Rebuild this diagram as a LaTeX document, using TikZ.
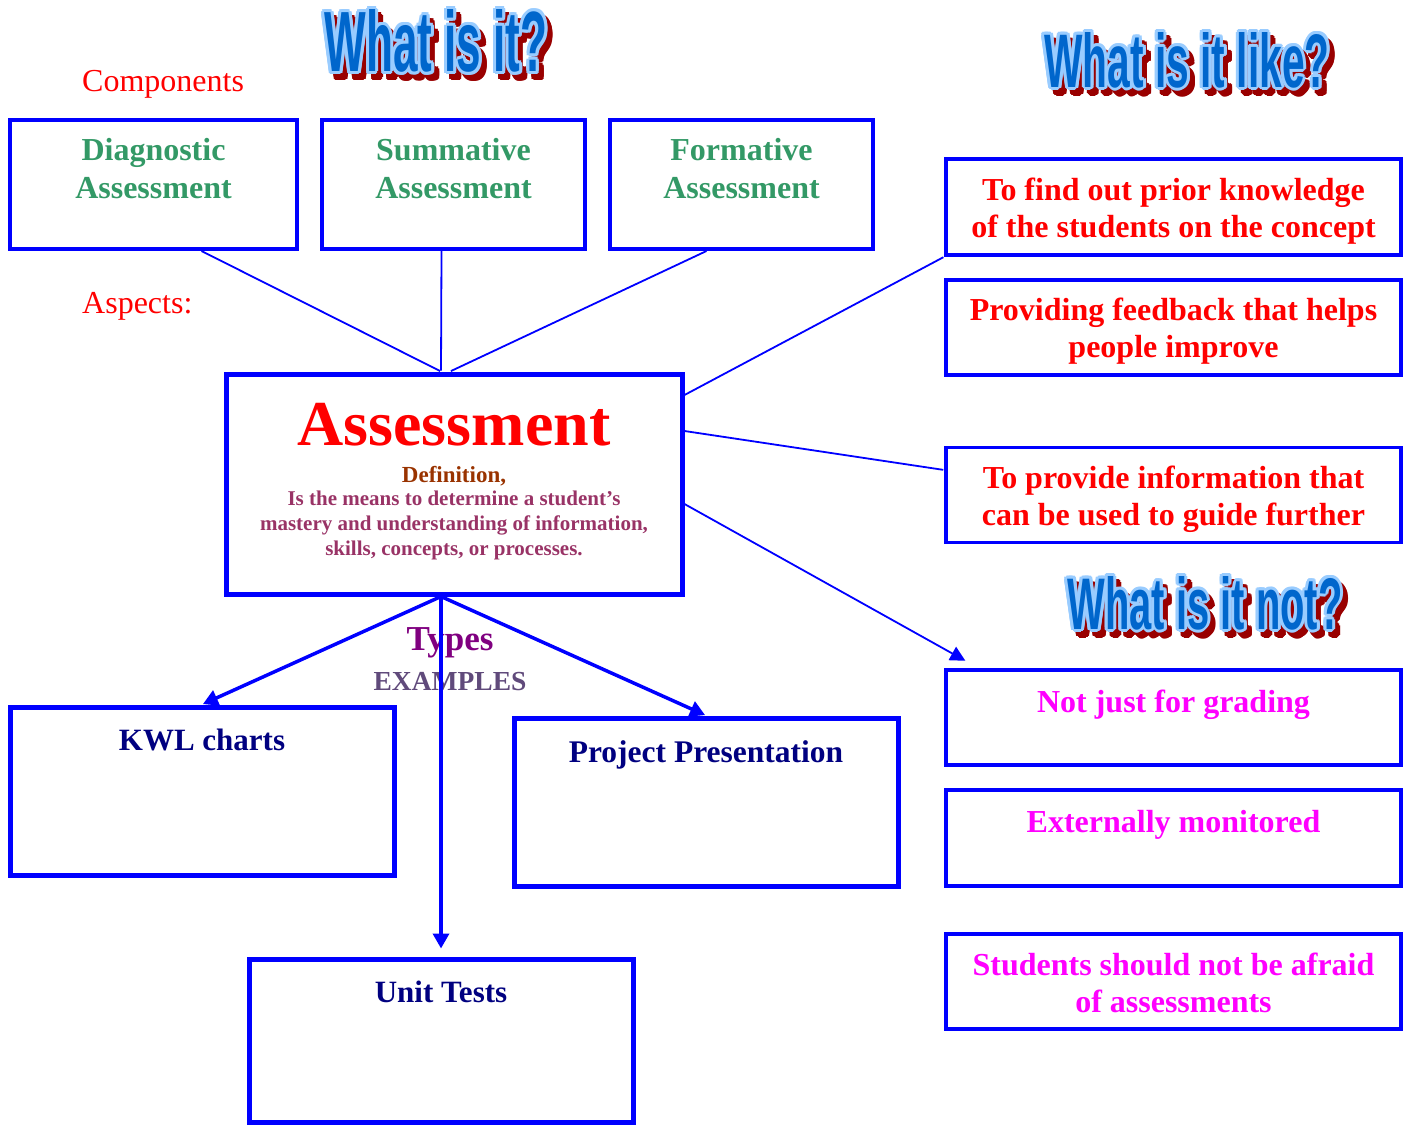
\documentclass[tikz,border=0pt]{standalone}
\usepackage{fontspec}
\setmainfont{Liberation Serif}
\newfontfamily\wafont{Liberation Sans}
\usetikzlibrary{arrows.meta,positioning}

\definecolor{waBlue}{HTML}{0066CC}
\definecolor{waHalo}{HTML}{99CCFF}
\definecolor{waRed}{HTML}{990000}
\definecolor{compGreen}{HTML}{339966}
\definecolor{defBrown}{HTML}{993300}
\definecolor{defPlum}{HTML}{993366}
\definecolor{typePurple}{HTML}{800080}
\definecolor{exGrey}{HTML}{604A7B}
\definecolor{exNavy}{HTML}{000080}
\definecolor{notPink}{HTML}{FF00FF}

% word art title: name, centre, width, height, text
\newcommand{\wordart}[5]{%
  \foreach \a in {0,30,...,330}{
    \node[wa, text=waRed, xshift=5pt, yshift=-6pt, shift={(\a:3pt)}] (#1s\a) at (#2) {\resizebox{#3}{#4}{#5}};
  }
  \foreach \a in {0,30,...,330}{
    \node[wa, text=waHalo, shift={(\a:3pt)}] (#1h\a) at (#2) {\resizebox{#3}{#4}{#5}};
  }
  \node[wa, text=waBlue] (#1) at (#2) {\resizebox{#3}{#4}{#5}};
}

\begin{document}
\begin{tikzpicture}[x=1pt,y=-1pt,shorten >=1pt]
    \tikzstyle{wa}=[inner sep=0pt, font=\wafont\bfseries]
    \tikzstyle{box}=[draw=blue, line width=4pt, inner sep=0pt]
    \tikzstyle{rbox}=[box, line width=3.5pt, minimum width=455pt, minimum height=95pt]
    \tikzstyle{exbox}=[box, line width=5pt, minimum width=384pt, minimum height=168pt]
    \tikzstyle{txt}=[inner sep=0pt, anchor=base, align=center, font=\bfseries\fontsize{32}{37}\selectfont]
    \tikzstyle{link}=[blue, line width=1.8pt]
    \tikzstyle{arr}=[blue, line width=3.5pt, -{Triangle[length=15pt,width=16pt]}]
    \useasboundingbox (0,0) rectangle (1404,1126);

    \wordart{q1}{436,41}{223pt}{62pt}{What is it?}
    \wordart{q2}{1187,60}{285pt}{55pt}{What is it like?}
    \wordart{q3}{1205,603}{275pt}{53pt}{What is it not?}

    \node[txt, anchor=base west, text=red, font=\fontsize{32}{38}\selectfont] (comp) at (82,92) {Components};
    \node[txt, anchor=base west, text=red, font=\fontsize{32}{38}\selectfont] (asp) at (82,313) {Aspects:};

    % components (base = last line)
    \node[box, minimum width=287pt, minimum height=129pt] (diag) at (153.5,184.5) {};
    \node[box, minimum width=263pt, minimum height=129pt] (summ) at (453.5,184.5) {};
    \node[box, minimum width=263pt, minimum height=129pt] (form) at (741.5,184.5) {};
    \node[txt, text=compGreen, font=\bfseries\fontsize{32}{38}\selectfont] (diagt) at (153.5,198) {Diagnostic\\Assessment};
    \node[txt, text=compGreen, font=\bfseries\fontsize{32}{38}\selectfont] (summt) at (453.5,198) {Summative\\Assessment};
    \node[txt, text=compGreen, font=\bfseries\fontsize{32}{38}\selectfont] (formt) at (741.5,198) {Formative\\Assessment};

    % centre
    \node[box, line width=5pt, minimum width=456pt, minimum height=220pt] (assess) at (454,484) {};
    \node[txt, text=red, font=\bfseries\fontsize{64}{70}\selectfont] (title) at (454,445) {Assessment};
    \node[txt, text=defBrown, font=\bfseries\fontsize{23}{25}\selectfont] (defn) at (454,482) {Definition,};
    \node[txt, text=defPlum, font=\bfseries\fontsize{21}{25}\selectfont] (defbody) at (454,555) {Is the means to determine a student’s\\mastery and understanding of information,\\skills, concepts, or processes.};

    % what is it like
    \node[rbox, minimum height=96pt] (find) at (1173.5,207) {};
    \node[rbox] (feedback) at (1173.5,327.5) {};
    \node[rbox] (info) at (1173.5,495) {};
    \node[txt, text=red] (findt) at (1173.5,237) {To find out prior knowledge\\of the students on the concept};
    \node[txt, text=red] (feedbackt) at (1173.5,357) {Providing feedback that helps\\people improve};
    \node[txt, text=red] (infot) at (1173.5,525) {To provide information that\\can be used to guide further};

    % what is it not
    \node[rbox] (grading) at (1173.5,717.5) {};
    \node[rbox, minimum height=96pt] (monitor) at (1173.5,838) {};
    \node[rbox] (afraid) at (1173.5,981.5) {};
    \node[txt, text=notPink] (gradingt) at (1173.5,712) {Not just for grading};
    \node[txt, text=notPink] (monitort) at (1173.5,832) {Externally monitored};
    \node[txt, text=notPink] (afraidt) at (1173.5,1012) {Students should not be afraid\\of assessments};

    % examples
    \node[txt, text=typePurple, font=\bfseries\fontsize{35}{40}\selectfont] (types) at (450,650) {Types};
    \node[txt, text=exGrey, font=\bfseries\fontsize{27.5}{30}\selectfont] (examples) at (450,690) {EXAMPLES};
    \node[exbox] (kwl) at (202,791) {};
    \node[exbox] (proj) at (706,802) {};
    \node[exbox, minimum height=163pt] (unit) at (441,1040.5) {};
    \node[txt, text=exNavy, font=\bfseries\fontsize{31}{37}\selectfont] (kwlt) at (202,750) {KWL charts};
    \node[txt, text=exNavy, font=\bfseries\fontsize{31.5}{37}\selectfont] (projt) at (706,762) {Project Presentation};
    \node[txt, text=exNavy, font=\bfseries\fontsize{31}{37}\selectfont] (unitt) at (441,1002) {Unit Tests};

    \draw[link] ([xshift=48pt]diag.south) -- ([xshift=-13pt]assess.north);
    \draw[link] ([xshift=-12pt]summ.south) -- ([xshift=-13pt]assess.north);
    \draw[link] ([xshift=-35pt]form.south) -- ([xshift=-4pt]assess.north);
    \draw[link] ([yshift=89pt]assess.east) -- (find.south west);
    \draw[link] ([yshift=53pt]assess.east) -- ([yshift=25pt]info.west);
    \draw[link, -{Triangle[length=15pt,width=15pt]}] ([yshift=-20pt]assess.east) -- ([xshift=22pt,yshift=7pt]grading.north west);
    \draw[arr] ([xshift=-13pt]assess.south) -- (kwl.north);
    \draw[arr] ([xshift=-13pt]assess.south) -- (proj.north);
    \draw[arr] ([xshift=-13pt]assess.south) -- ([yshift=7pt]unit.north);
\end{tikzpicture}
\end{document}
